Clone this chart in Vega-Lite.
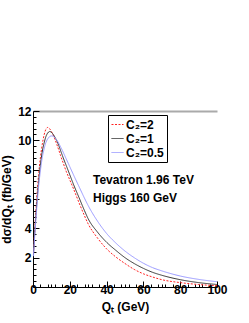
{
  "$schema": "https://vega.github.io/schema/vega-lite/v6.json",
  "autosize": "none",
  "width": 184,
  "height": 176,
  "padding": {"left": 33, "top": 111, "right": 32, "bottom": 36},
  "background": "white",
  "config": {
    "view": {"stroke": null},
    "font": "Liberation Sans",
    "axis": {"labelFont": "Liberation Sans", "labelFontWeight": "bold", "labelFontSize": 12, "labelColor": "black", "titleFont": "Liberation Sans", "titleFontWeight": "bold", "titleFontSize": 12, "titleColor": "black", "domainColor": "black", "tickColor": "black", "grid": false, "labelFlush": false}
  },
  "datasets": {
    "curves": [
      {"x": 0.25, "y": 2.3, "c": "C₂=2"}, {"x": 1, "y": 4.0, "c": "C₂=2"}, {"x": 2, "y": 6.0, "c": "C₂=2"}, {"x": 3, "y": 7.6, "c": "C₂=2"}, {"x": 4, "y": 8.8, "c": "C₂=2"}, {"x": 5, "y": 9.7, "c": "C₂=2"}, {"x": 6, "y": 10.35, "c": "C₂=2"}, {"x": 7, "y": 10.75, "c": "C₂=2"}, {"x": 8, "y": 10.88, "c": "C₂=2"}, {"x": 9, "y": 10.8, "c": "C₂=2"}, {"x": 10, "y": 10.6, "c": "C₂=2"}, {"x": 11, "y": 10.35, "c": "C₂=2"}, {"x": 12, "y": 10.05, "c": "C₂=2"}, {"x": 13, "y": 9.7, "c": "C₂=2"}, {"x": 14, "y": 9.35, "c": "C₂=2"}, {"x": 15, "y": 8.95, "c": "C₂=2"}, {"x": 16, "y": 8.6, "c": "C₂=2"}, {"x": 18, "y": 7.9, "c": "C₂=2"}, {"x": 20, "y": 7.3, "c": "C₂=2"}, {"x": 22, "y": 6.7, "c": "C₂=2"}, {"x": 25, "y": 5.75, "c": "C₂=2"}, {"x": 28, "y": 4.85, "c": "C₂=2"}, {"x": 30, "y": 4.3, "c": "C₂=2"}, {"x": 35, "y": 3.35, "c": "C₂=2"}, {"x": 40, "y": 2.6, "c": "C₂=2"}, {"x": 45, "y": 2.05, "c": "C₂=2"}, {"x": 50, "y": 1.6, "c": "C₂=2"}, {"x": 55, "y": 1.2, "c": "C₂=2"}, {"x": 60, "y": 0.9, "c": "C₂=2"}, {"x": 65, "y": 0.68, "c": "C₂=2"}, {"x": 70, "y": 0.5, "c": "C₂=2"}, {"x": 80, "y": 0.3, "c": "C₂=2"}, {"x": 90, "y": 0.17, "c": "C₂=2"}, {"x": 100, "y": 0.09, "c": "C₂=2"},
      {"x": 0.25, "y": 2.2, "c": "C₂=1"}, {"x": 1, "y": 3.8, "c": "C₂=1"}, {"x": 2, "y": 5.6, "c": "C₂=1"}, {"x": 3, "y": 7.1, "c": "C₂=1"}, {"x": 4, "y": 8.3, "c": "C₂=1"}, {"x": 5, "y": 9.2, "c": "C₂=1"}, {"x": 6, "y": 9.8, "c": "C₂=1"}, {"x": 7, "y": 10.25, "c": "C₂=1"}, {"x": 8, "y": 10.5, "c": "C₂=1"}, {"x": 9, "y": 10.6, "c": "C₂=1"}, {"x": 10, "y": 10.55, "c": "C₂=1"}, {"x": 11, "y": 10.4, "c": "C₂=1"}, {"x": 12, "y": 10.2, "c": "C₂=1"}, {"x": 13, "y": 9.95, "c": "C₂=1"}, {"x": 14, "y": 9.65, "c": "C₂=1"}, {"x": 15, "y": 9.3, "c": "C₂=1"}, {"x": 16, "y": 8.95, "c": "C₂=1"}, {"x": 18, "y": 8.3, "c": "C₂=1"}, {"x": 20, "y": 7.65, "c": "C₂=1"}, {"x": 22, "y": 7.0, "c": "C₂=1"}, {"x": 25, "y": 6.1, "c": "C₂=1"}, {"x": 28, "y": 5.2, "c": "C₂=1"}, {"x": 30, "y": 4.65, "c": "C₂=1"}, {"x": 35, "y": 3.75, "c": "C₂=1"}, {"x": 40, "y": 3.05, "c": "C₂=1"}, {"x": 45, "y": 2.5, "c": "C₂=1"}, {"x": 50, "y": 2.0, "c": "C₂=1"}, {"x": 55, "y": 1.6, "c": "C₂=1"}, {"x": 60, "y": 1.27, "c": "C₂=1"}, {"x": 65, "y": 1.0, "c": "C₂=1"}, {"x": 70, "y": 0.8, "c": "C₂=1"}, {"x": 80, "y": 0.5, "c": "C₂=1"}, {"x": 90, "y": 0.3, "c": "C₂=1"}, {"x": 100, "y": 0.17, "c": "C₂=1"},
      {"x": 0.25, "y": 2.1, "c": "C₂=0.5"}, {"x": 1, "y": 3.6, "c": "C₂=0.5"}, {"x": 2, "y": 5.3, "c": "C₂=0.5"}, {"x": 3, "y": 6.8, "c": "C₂=0.5"}, {"x": 4, "y": 7.9, "c": "C₂=0.5"}, {"x": 5, "y": 8.8, "c": "C₂=0.5"}, {"x": 6, "y": 9.4, "c": "C₂=0.5"}, {"x": 7, "y": 9.85, "c": "C₂=0.5"}, {"x": 8, "y": 10.1, "c": "C₂=0.5"}, {"x": 9, "y": 10.25, "c": "C₂=0.5"}, {"x": 10, "y": 10.3, "c": "C₂=0.5"}, {"x": 11, "y": 10.28, "c": "C₂=0.5"}, {"x": 12, "y": 10.15, "c": "C₂=0.5"}, {"x": 13, "y": 10.0, "c": "C₂=0.5"}, {"x": 14, "y": 9.8, "c": "C₂=0.5"}, {"x": 15, "y": 9.55, "c": "C₂=0.5"}, {"x": 16, "y": 9.3, "c": "C₂=0.5"}, {"x": 18, "y": 8.75, "c": "C₂=0.5"}, {"x": 20, "y": 8.2, "c": "C₂=0.5"}, {"x": 22, "y": 7.65, "c": "C₂=0.5"}, {"x": 25, "y": 6.85, "c": "C₂=0.5"}, {"x": 28, "y": 6.05, "c": "C₂=0.5"}, {"x": 30, "y": 5.55, "c": "C₂=0.5"}, {"x": 35, "y": 4.5, "c": "C₂=0.5"}, {"x": 40, "y": 3.65, "c": "C₂=0.5"}, {"x": 45, "y": 3.0, "c": "C₂=0.5"}, {"x": 50, "y": 2.45, "c": "C₂=0.5"}, {"x": 55, "y": 2.0, "c": "C₂=0.5"}, {"x": 60, "y": 1.62, "c": "C₂=0.5"}, {"x": 65, "y": 1.32, "c": "C₂=0.5"}, {"x": 70, "y": 1.1, "c": "C₂=0.5"}, {"x": 80, "y": 0.75, "c": "C₂=0.5"}, {"x": 90, "y": 0.52, "c": "C₂=0.5"}, {"x": 100, "y": 0.36, "c": "C₂=0.5"}
    ],
    "notes": [
      {"x": 32.6, "y": 7.3, "t": "Tevatron 1.96 TeV"},
      {"x": 32.6, "y": 6.05, "t": "Higgs 160 GeV"}
    ]
  },
  "layer": [
    {
      "data": {"name": "curves"},
      "mark": {"type": "point", "opacity": 0},
      "encoding": {
        "x": {"field": "x", "type": "quantitative", "scale": {"domain": [0, 100], "nice": false},
              "axis": {"orient": "bottom", "values": [4, 8, 10, 12, 16, 24, 28, 30, 32, 36, 44, 48, 50, 52, 56, 64, 68, 70, 72, 76, 84, 88, 90, 92, 96], "labels": false, "domain": false, "tickSize": -3, "title": null}},
        "y": {"field": "y", "type": "quantitative", "scale": {"domain": [0, 12], "nice": false},
              "axis": {"orient": "left", "values": [0.4, 0.8, 1.2, 1.6, 2.4, 2.8, 3.2, 3.6, 4.4, 4.8, 5.2, 5.6, 6.4, 6.8, 7.2, 7.6, 8.4, 8.8, 9.2, 9.6, 10.4, 10.8, 11.2, 11.6], "labels": false, "domain": false, "tickSize": -3, "title": null}}
      }
    },
    {
      "data": {"name": "curves"},
      "mark": {"type": "line", "strokeWidth": 1, "interpolate": "monotone"},
      "encoding": {
        "x": {"field": "x", "type": "quantitative", "scale": {"domain": [0, 100], "nice": false},
              "axis": {"orient": "bottom", "values": [0, 20, 40, 60, 80, 100], "tickSize": -6, "labelPadding": 3, "title": "Qₜ (GeV)", "titlePadding": 6}},
        "y": {"field": "y", "type": "quantitative", "scale": {"domain": [0, 12], "nice": false},
              "axis": {"orient": "left", "values": [2, 4, 6, 8, 10, 12], "tickSize": -6, "labelPadding": 8, "title": "dσ/dQₜ (fb/GeV)", "titlePadding": 4}},
        "color": {"field": "c", "type": "nominal", "scale": {"domain": ["C₂=2", "C₂=1", "C₂=0.5"], "range": ["#ff2222", "#333333", "#9999ff"]},
                  "legend": {"title": null, "orient": "none", "legendX": 75, "legendY": 4, "symbolType": "stroke", "symbolSize": 144, "symbolStrokeWidth": 1, "labelFontSize": 12, "labelFontWeight": "bold", "labelFont": "Liberation Sans", "labelColor": "black", "fillColor": "white", "strokeColor": "black", "padding": 3, "rowPadding": 1, "labelOffset": 2}},
        "strokeDash": {"field": "c", "type": "nominal", "scale": {"domain": ["C₂=2", "C₂=1", "C₂=0.5"], "range": [[2, 1.5], [1, 0], [1, 0]]}, "legend": {"title": null}}
      }
    },
    {
      "data": {"name": "notes"},
      "mark": {"type": "text", "align": "left", "baseline": "middle", "font": "Liberation Sans", "fontWeight": "bold", "fontSize": 12, "color": "black"},
      "encoding": {
        "x": {"field": "x", "type": "quantitative", "scale": {"domain": [0, 100], "nice": false},
              "axis": {"orient": "top", "domainColor": "#aaaaaa", "domainWidth": 2, "ticks": false, "labels": false, "title": null}},
        "y": {"field": "y", "type": "quantitative", "scale": {"domain": [0, 12], "nice": false}, "axis": null},
        "text": {"field": "t"}
      }
    }
  ],
  "resolve": {"axis": {"x": "independent", "y": "independent"}}
}
